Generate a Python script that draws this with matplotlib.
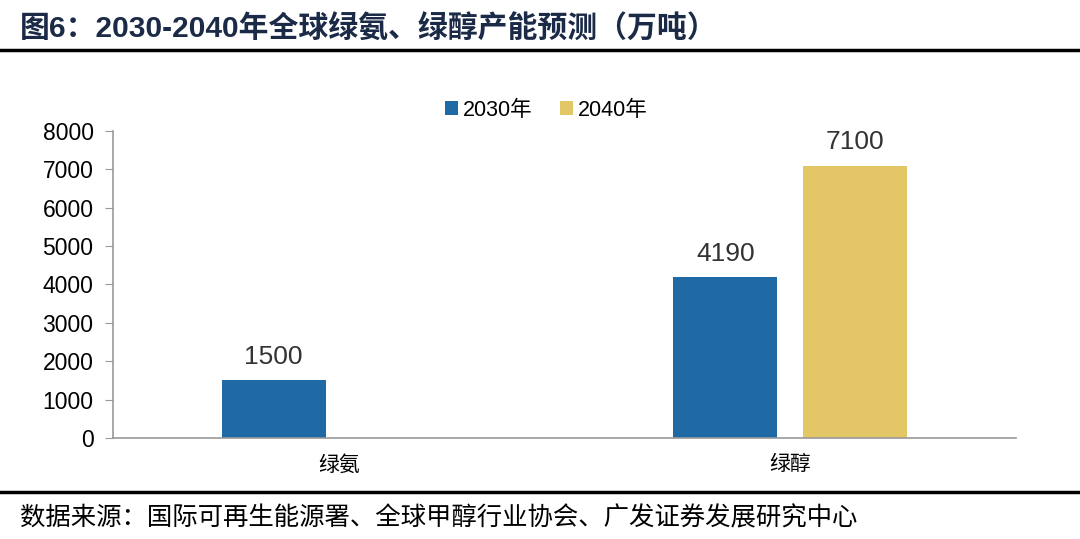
import matplotlib.pyplot as plt
import numpy as np

plt.rcParams['font.family'] = ['Liberation Sans', 'Noto Sans CJK SC', 'DejaVu Sans']

categories = ['绿氨', '绿醇']
series_names = ['2030年', '2040年']
values_2030 = [1500, 4190]
values_2040 = [np.nan, 7100]
yticks = [0, 1000, 2000, 3000, 4000, 5000, 6000, 7000, 8000]

blue = '#1F6AA5'
gold = '#E3C665'

fig = plt.figure(figsize=(10.8, 5.39), dpi=100)
ax = fig.add_axes([0.1046, 0.1874, 0.8361, 0.5696])

x = np.arange(len(categories))
w = 0.23
off = 0.144
b1 = ax.bar(x - off, values_2030, w, color=blue, label=series_names[0])
b2 = ax.bar(x + off, values_2040, w, color=gold, label=series_names[1])

for bars, vals in [(b1, values_2030), (b2, values_2040)]:
    for rect, v in zip(bars, vals):
        if np.isnan(v):
            continue
        ax.annotate(f'{v:.0f}', (rect.get_x() + rect.get_width() / 2, v),
                    xytext=(0, 8), textcoords='offset points',
                    ha='center', va='bottom', fontsize=19, color='#333333')

ax.set_xlim(-0.5, 1.5)
ax.set_ylim(0, 8000)
ax.set_yticks(yticks)
ax.set_xticks(x)
ax.set_xticklabels(categories, fontsize=15)
ax.tick_params(axis='y', labelsize=16.5, direction='out', length=6, color='#999999', pad=8)
ax.tick_params(axis='x', length=0, pad=12)
for s in ['top', 'right']:
    ax.spines[s].set_visible(False)
for s in ['left', 'bottom']:
    ax.spines[s].set_color('#999999')
    ax.spines[s].set_linewidth(1.2)

ax.legend(loc='center', bbox_to_anchor=(0.48, 1.068), ncol=2, frameon=False,
          fontsize=15.5, handlelength=0.6, handleheight=0.6, handletextpad=0.2,
          columnspacing=1.3)

# title, rules and source
fig.text(20 / 1080, 1 - 29 / 539, '图6：2030-2040年全球绿氨、绿醇产能预测（万吨）',
         fontsize=21.5, fontweight='bold', color='#1B2A47', va='center', ha='left',
         family=['Liberation Sans', 'Noto Sans CJK SC'])
fig.add_artist(plt.Line2D([0, 1], [1 - 50 / 539] * 2, color='black', lw=2.5))
fig.add_artist(plt.Line2D([0, 1], [1 - 492 / 539] * 2, color='black', lw=2.5))
fig.text(20 / 1080, 1 - 518 / 539, '数据来源：国际可再生能源署、全球甲醇行业协会、广发证券发展研究中心',
         fontsize=18.3, color='black', va='center', ha='left',
         family=['Noto Sans CJK SC'])

fig.savefig('out.png', dpi=100)
